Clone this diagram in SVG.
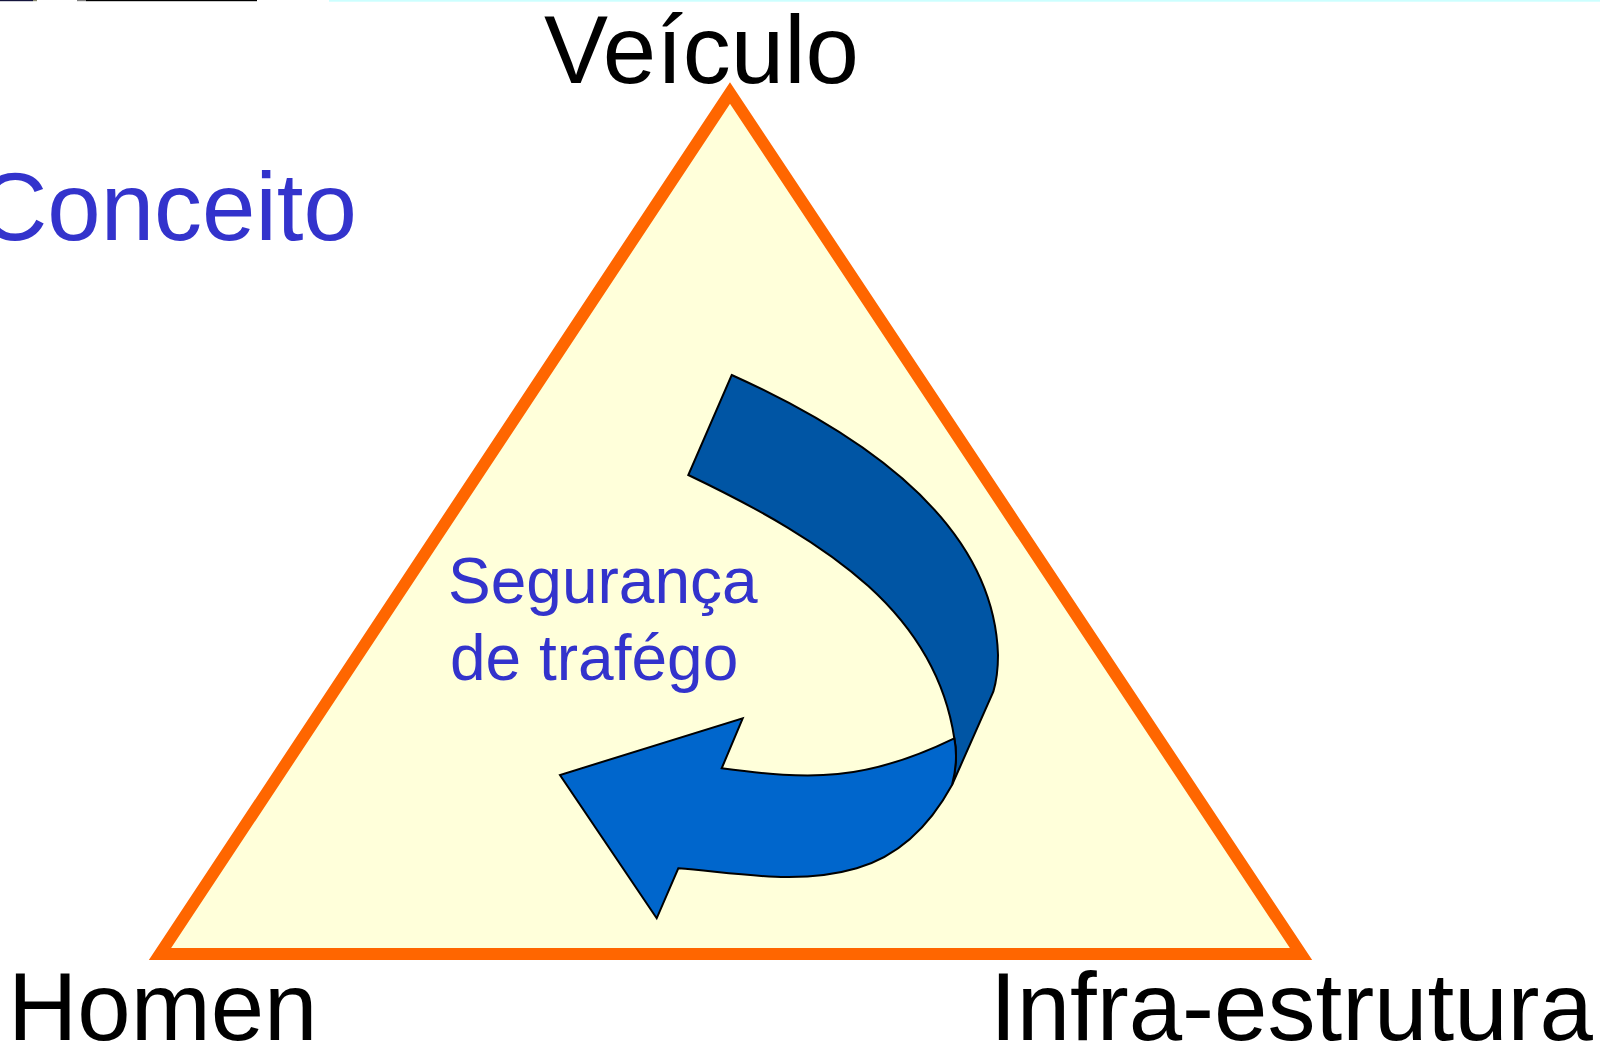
<svg xmlns="http://www.w3.org/2000/svg" width="1600" height="1046" viewBox="0 0 1600 1046">
<style>
.lbl{font-family:"Liberation Sans",Arial,sans-serif;font-size:96px;fill:#000}
.blue{fill:#3333CC}
.seg{font-family:"Liberation Sans",Arial,sans-serif;font-size:64px;fill:#3333CC}
.arr{stroke:#000;stroke-width:2;stroke-linejoin:miter}
</style>
<rect width="1600" height="1046" fill="#FFFFFF"/>
<g id="top-strip">
<rect x="0" y="0" width="33" height="1.2" fill="#14143C"/>
<rect x="33" y="0" width="4" height="1.2" fill="#8A8A70"/>
<rect x="77" y="0" width="9" height="1.2" fill="#808080"/>
<rect x="86" y="0" width="171" height="1.2" fill="#000000"/>
<rect x="329" y="0" width="1271" height="1.7" fill="#CCFFFF"/>
</g>
<g id="triangle">
<polygon points="730,93 160,954 1301,954" fill="#FFFFDA" stroke="#FF6600" stroke-width="12" stroke-linejoin="miter" stroke-miterlimit="10"/>
</g>
<g id="arrow">
<path class="arr" fill="#0055A4" d="M731.7,375 C886.4,444.7 994.4,535 998,655 C998,668 996.5,681 993.3,691.7 L952,785 C956,770 957,752 954.3,738.3 C935.6,614.6 832.3,543.8 688.3,475 Z"/>
<path class="arr" fill="#0066CC" d="M954.3,738.3 C864.3,782 811,780 721.7,768.3 L742.7,718.3 L560,775 L656.7,918.3 L678.3,868.3 C738.3,873.1 798.7,885.3 856.7,868.3 C899.9,855.7 930.4,824.6 952,785 C956,770 957,752 954.3,738.3 Z"/>
</g>
<g id="node-veiculo"><text class="lbl" x="544" y="83">Veículo</text></g>
<g id="node-conceito"><text class="lbl blue" x="-22" y="240">Conceito</text></g>
<g id="node-homen"><text class="lbl" x="8" y="1040">Homen</text></g>
<g id="node-infra"><text class="lbl" x="990" y="1040">Infra-estrutura</text></g>
<g id="node-seguranca"><text class="seg" x="448" y="603">Segurança</text><text class="seg" x="450" y="680">de trafégo</text></g>
</svg>
